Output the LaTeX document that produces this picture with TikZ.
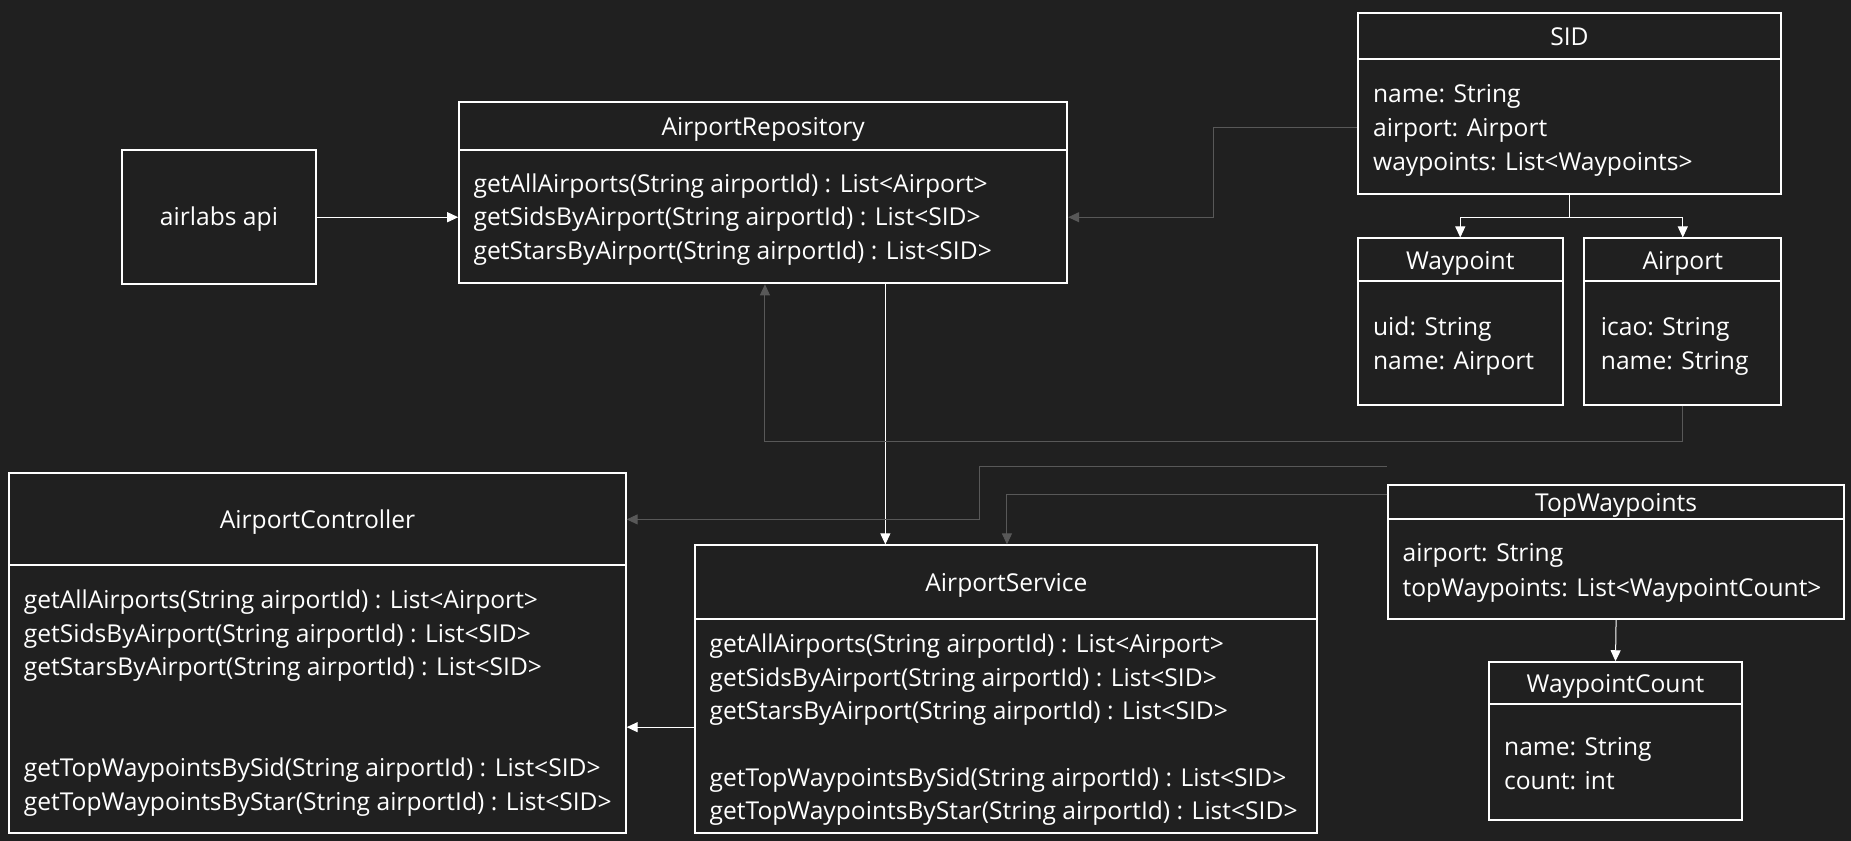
\documentclass[tikz,border=0pt]{standalone}
\usepackage{fontspec}
\setmainfont{Open Sans}
\usetikzlibrary{arrows.meta,fit}
\definecolor{bg}{RGB}{32,32,32}
\definecolor{conn}{RGB}{88,88,88}
\tikzset{
  box/.style={draw=white,line width=2pt,inner sep=0pt},
  divline/.style={draw=white,line width=2pt},
  txt/.style={text=white,font=\fontsize{24.6}{29}\selectfont,inner sep=0pt,anchor=west,text height=17.5pt,text depth=0pt},
  ttl/.style={text=white,font=\fontsize{24.6}{29}\selectfont,inner sep=0pt,text height=17.5pt,text depth=0pt},
  wline/.style={draw=white,line width=1pt,-{Triangle[length=11pt,width=10pt]}},
  gline/.style={draw=conn,line width=1pt,-{Triangle[length=11pt,width=10pt]}},
}
\begin{document}
\begin{tikzpicture}[x=1.18048pt,y=-1.18048pt]
\fill[bg] (0,0) rectangle (1568,712);
\useasboundingbox (0,0) rectangle (1568,712);

% airlabs api
\node[box,fit={(103,127) (268,241)}] (api) {};
\node[ttl] (apit) at (api.center) {airlabs api};

% AirportRepository
\node[box,fit={(389,86) (904,240)}] (repo) {};
\draw[divline] (389,127) -- (904,127);
\node[ttl] (repot) at (646.5,107) {AirportRepository};
\node[txt] (repo1) at (401,156) {getAllAirports(String airportId) : List<Airport>};
\node[txt] (repo2) at (401,184) {getSidsByAirport(String airportId) : List<SID>};
\node[txt] (repo3) at (401,212) {getStarsByAirport(String airportId) : List<SID>};

% SID
\node[box,fit={(1150,11) (1509,164)}] (sid) {};
\draw[divline] (1150,50) -- (1509,50);
\node[ttl] (sidt) at (1329.5,31) {SID};
\node[txt] (sid1) at (1163,79) {name: String};
\node[txt] (sid2) at (1163,108) {airport: Airport};
\node[txt] (sid3) at (1163,137) {waypoints: List<Waypoints>};

% Waypoint
\node[box,fit={(1150,202) (1324,343)}] (wp) {};
\draw[divline] (1150,238) -- (1324,238);
\node[ttl] (wpt) at (1237,221) {Waypoint};
\node[txt] (wp1) at (1163,277) {uid: String};
\node[txt] (wp2) at (1163,306) {name: Airport};

% Airport
\node[box,fit={(1342,202) (1509,343)}] (ap) {};
\draw[divline] (1342,238) -- (1509,238);
\node[ttl] (apt) at (1425.5,221) {Airport};
\node[txt] (ap1) at (1356,277) {icao: String};
\node[txt] (ap2) at (1356,306) {name: String};

% AirportController
\node[box,fit={(8,401) (530,706)}] (ctrl) {};
\draw[divline] (8,479) -- (530,479);
\node[ttl] (ctrlt) at (269,440) {AirportController};
\node[txt] (ctrl1) at (20,508) {getAllAirports(String airportId) : List<Airport>};
\node[txt] (ctrl2) at (20,537) {getSidsByAirport(String airportId) : List<SID>};
\node[txt] (ctrl3) at (20,565) {getStarsByAirport(String airportId) : List<SID>};
\node[txt] (ctrl4) at (20,650) {getTopWaypointsBySid(String airportId) : List<SID>};
\node[txt] (ctrl5) at (20,679) {getTopWaypointsByStar(String airportId) : List<SID>};

% AirportService
\node[box,fit={(589,462) (1116,706)}] (svc) {};
\draw[divline] (589,524) -- (1116,524);
\node[ttl] (svct) at (852.5,494) {AirportService};
\node[txt] (svc1) at (601,545) {getAllAirports(String airportId) : List<Airport>};
\node[txt] (svc2) at (601,574) {getSidsByAirport(String airportId) : List<SID>};
\node[txt] (svc3) at (601,602) {getStarsByAirport(String airportId) : List<SID>};
\node[txt] (svc4) at (601,659) {getTopWaypointsBySid(String airportId) : List<SID>};
\node[txt] (svc5) at (601,687) {getTopWaypointsByStar(String airportId) : List<SID>};

% TopWaypoints
\node[box,fit={(1176,411) (1562,524)}] (top) {};
\draw[divline] (1176,440) -- (1562,440);
\node[ttl] (topt) at (1369,426) {TopWaypoints};
\node[txt] (top1) at (1188,468.5) {airport: String};
\node[txt] (top2) at (1188,497.5) {topWaypoints: List<WaypointCount>};

% WaypointCount
\node[box,fit={(1261,561) (1476,695)}] (wc) {};
\draw[divline] (1261,596) -- (1476,596);
\node[ttl] (wct) at (1368.5,579) {WaypointCount};
\node[txt] (wc1) at (1274,632.5) {name: String};
\node[txt] (wc2) at (1274,661) {count: int};

% connectors
\coordinate (tstart) at (1175,395);
\draw[wline] (api.east |- 0,184) -- (repo.west |- 0,184);
\draw[gline] (sid.west |- 0,108) -| (1028,184) -- (repo.east |- 0,184);
\draw[wline] (repo.south -| 750,0) -- (svc.north -| 750,0);
\draw[gline] (ap.south) |- (648,374) -- (repo.south -| 648,0);
\draw[gline] (tstart) -| (830,440) -- (ctrl.east |- 0,440);
\draw[gline] (top.west |- 0,419) -| (svc.north -| 853,0);
\draw[wline] (svc.west |- 0,616) -- (ctrl.east |- 0,616);
\draw[wline] (sid.south) -- (sid.south |- 0,184) -| (wp.north);
\draw[wline] (sid.south |- 0,184) -| (ap.north);
\draw[wline] (top.south) -- (wc.north);
\end{tikzpicture}
\end{document}
